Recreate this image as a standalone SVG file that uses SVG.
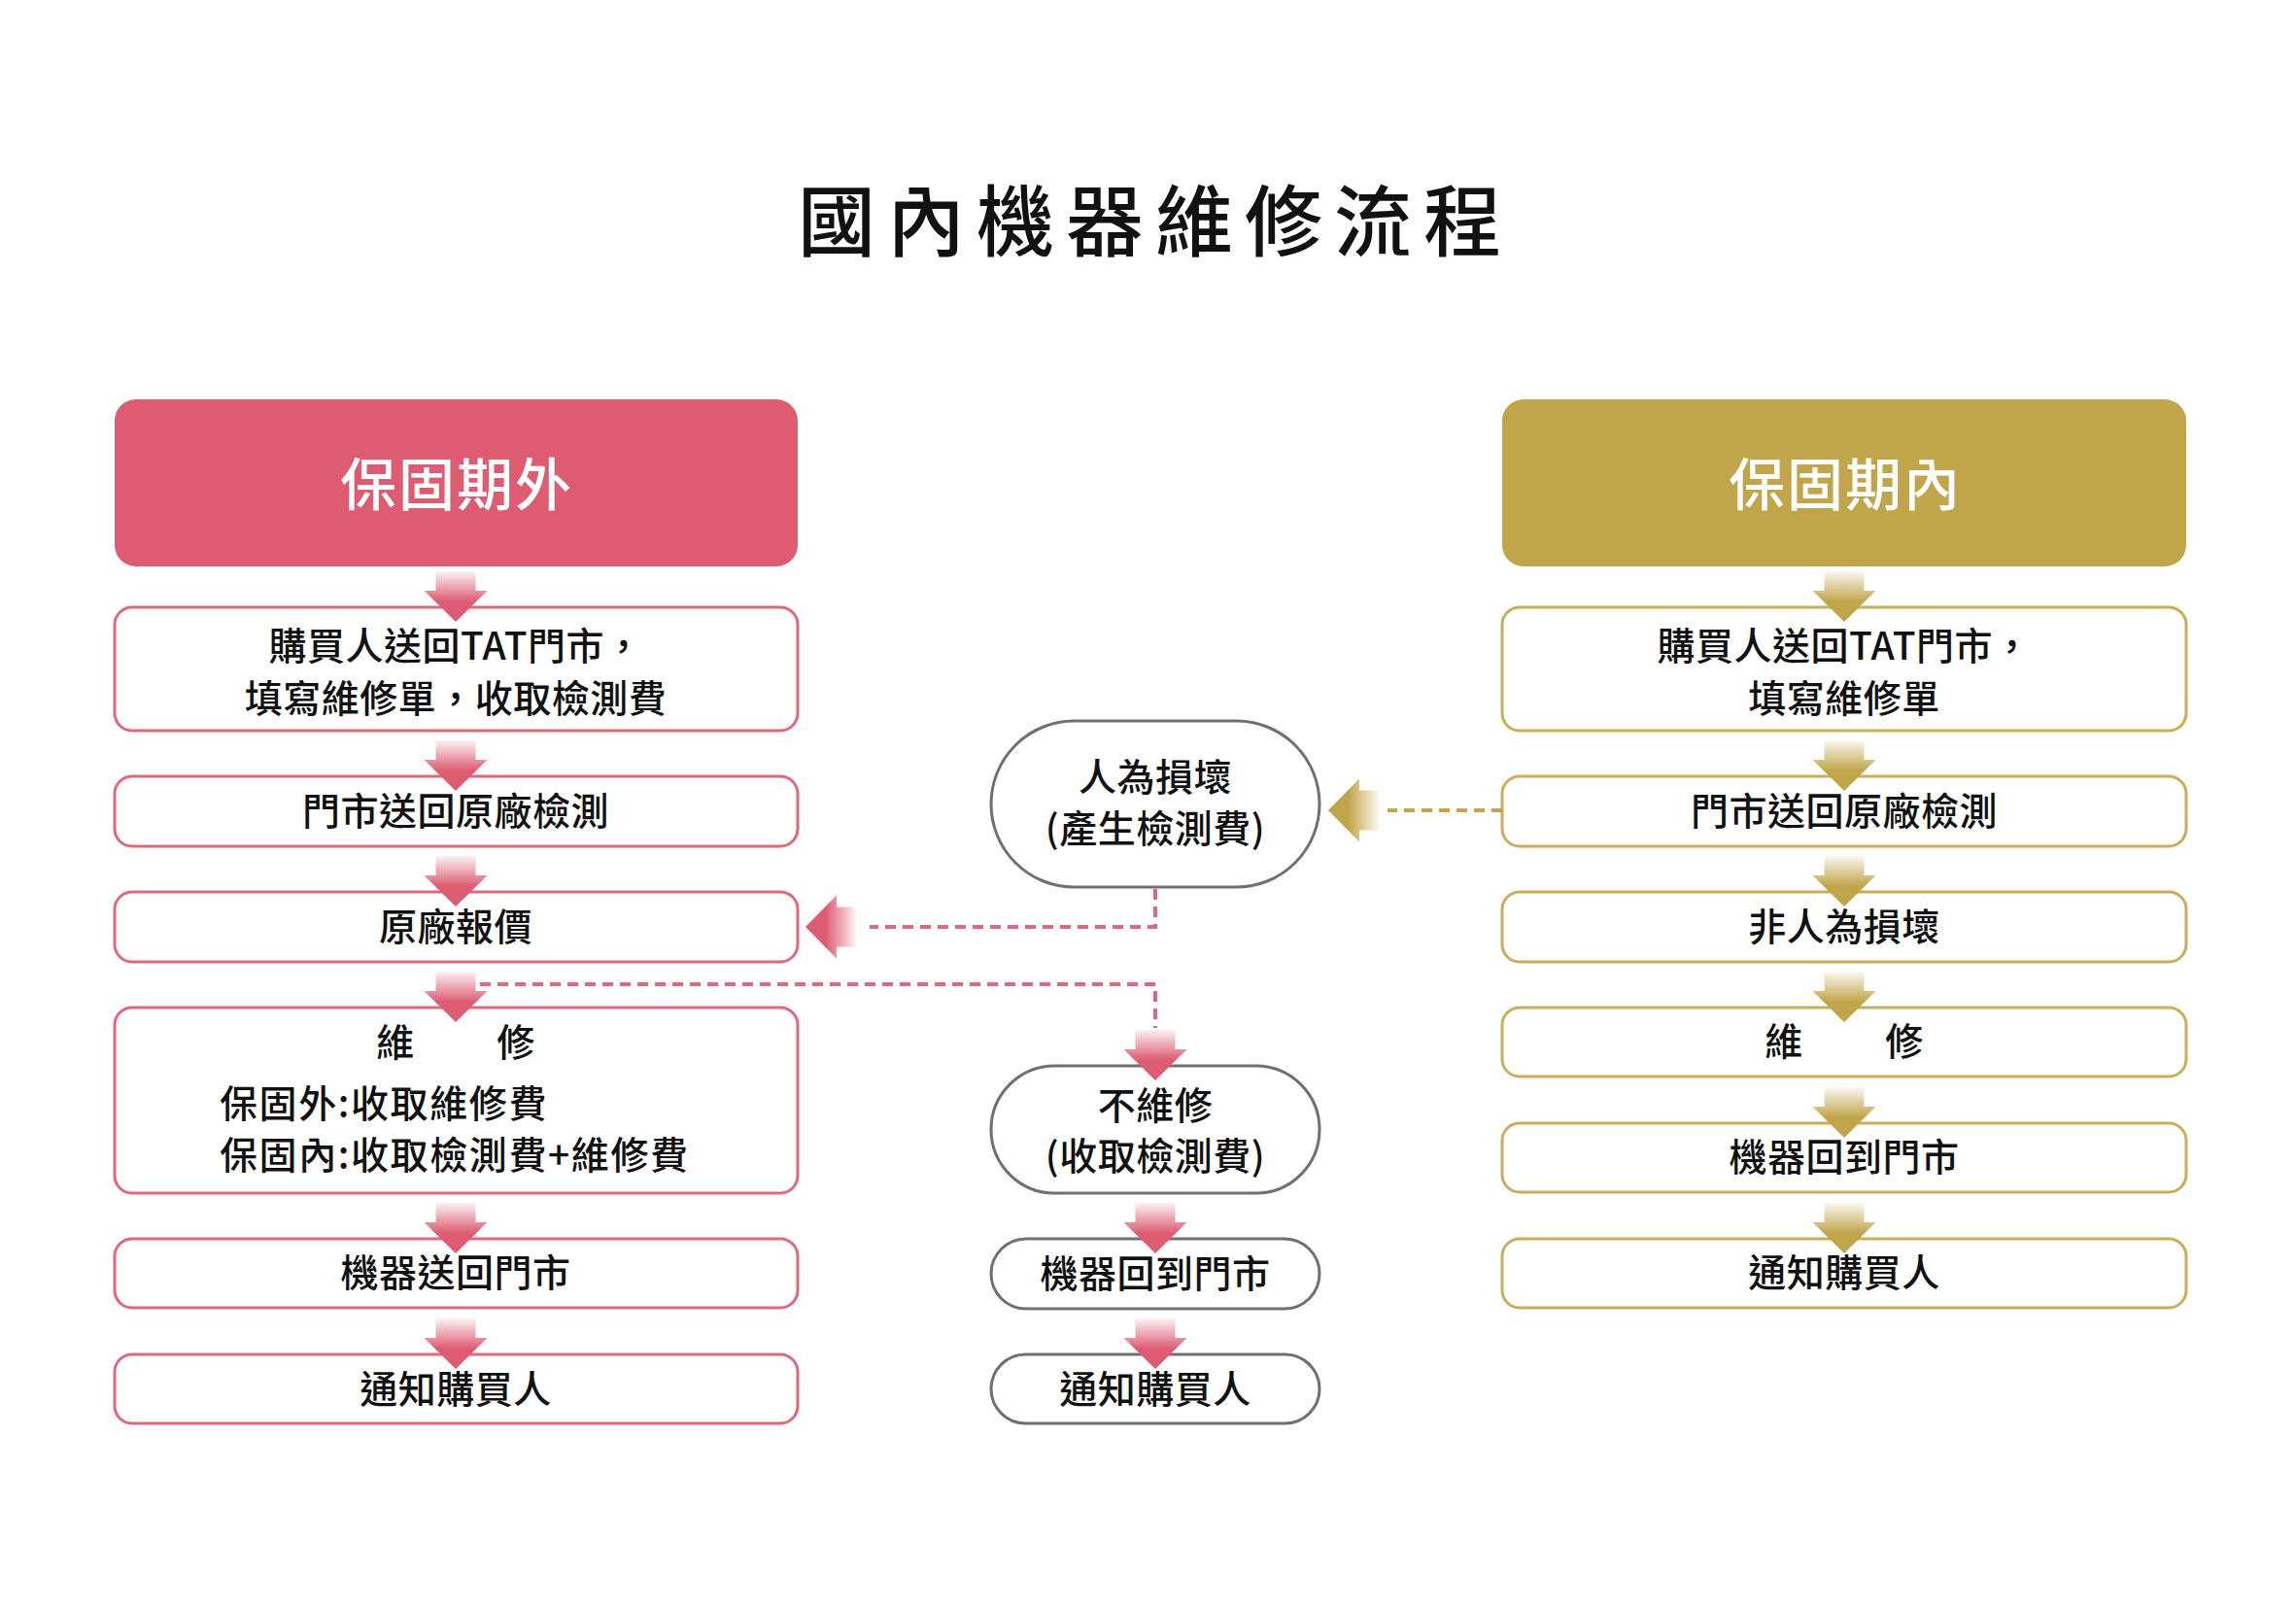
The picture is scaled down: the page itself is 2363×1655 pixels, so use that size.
<svg xmlns="http://www.w3.org/2000/svg" width="2363" height="1655" viewBox="0 0 2363 1655">
<style>
.t{font-family:'Noto Sans CJK TC','Noto Sans CJK SC',sans-serif;font-size:39px;font-weight:500;fill:#111;text-anchor:middle;dominant-baseline:central;letter-spacing:0.5px}
.ts{text-anchor:start;letter-spacing:1.6px}
.hd{font-family:'Noto Sans CJK TC',sans-serif;font-size:58px;font-weight:500;fill:#fff;text-anchor:middle;dominant-baseline:central;letter-spacing:2px}
.title{font-family:'Noto Sans CJK TC',sans-serif;font-size:80px;font-weight:500;fill:#111;text-anchor:middle;dominant-baseline:central;letter-spacing:12px}
.bp{fill:#fff;stroke:#E0687C;stroke-width:3}
.bg{fill:#fff;stroke:#C9AE5A;stroke-width:3}
.bo{fill:#fff;stroke:#707070;stroke-width:3}
.dp{fill:none;stroke:#E0687C;stroke-width:4;stroke-dasharray:11 7}
.dg{fill:none;stroke:#C1A54A;stroke-width:4;stroke-dasharray:11 7}
</style>
<defs>
<linearGradient id="gP" x1="0" y1="0" x2="0" y2="1">
<stop offset="0" stop-color="#DD5C72" stop-opacity="0.08"/>
<stop offset="0.6" stop-color="#DD5C72"/>
<stop offset="1" stop-color="#DD5C72"/>
</linearGradient>
<linearGradient id="gG" x1="0" y1="0" x2="0" y2="1">
<stop offset="0" stop-color="#C1A54A" stop-opacity="0.08"/>
<stop offset="0.6" stop-color="#C1A54A"/>
<stop offset="1" stop-color="#C1A54A"/>
</linearGradient>
<path id="aP" d="M-20.5,-52H20.5V-32H32.5L0,0L-32.5,-32H-20.5Z" fill="url(#gP)"/>
<path id="aG" d="M-20.5,-52H20.5V-32H32.5L0,0L-32.5,-32H-20.5Z" fill="url(#gG)"/>
</defs>
<rect width="2363" height="1655" fill="#fff"/>
<text class="title" x="1189" y="222">國內機器維修流程</text>

<g id="hdr-out"><rect x="118" y="411" width="703" height="172" rx="22" fill="#DD5C72"/><text class="hd" x="470" y="495">保固期外</text></g>
<g id="hdr-in"><rect x="1546" y="411" width="704" height="172" rx="22" fill="#C1A54A"/><text class="hd" x="1899" y="495">保固期內</text></g>

<g id="L1"><rect class="bp" x="118" y="625" width="703" height="127" rx="18"/><text class="t" x="469" y="662">購買人送回TAT門市，</text><text class="t" x="469" y="716">填寫維修單，收取檢測費</text></g>
<g id="L2"><rect class="bp" x="118" y="799" width="703" height="72" rx="18"/><text class="t" x="469" y="832">門市送回原廠檢測</text></g>
<g id="L3"><rect class="bp" x="118" y="918" width="703" height="72" rx="18"/><text class="t" x="469" y="951">原廠報價</text></g>
<g id="L4"><rect class="bp" x="118" y="1037" width="703" height="191" rx="18"/><text class="t" x="407" y="1070">維</text><text class="t" x="531" y="1070">修</text><text class="t ts" x="226" y="1133">保固外:收取維修費</text><text class="t ts" x="226" y="1186">保固內:收取檢測費+維修費</text></g>
<g id="L5"><rect class="bp" x="118" y="1275" width="703" height="71" rx="18"/><text class="t" x="469" y="1307">機器送回門市</text></g>
<g id="L6"><rect class="bp" x="118" y="1394" width="703" height="71" rx="18"/><text class="t" x="469" y="1427">通知購買人</text></g>

<g id="O1"><rect class="bo" x="1020" y="742" width="338" height="171" rx="85.5"/><text class="t" x="1189" y="797">人為損壞</text><text class="t" x="1189" y="850">(產生檢測費)</text></g>
<g id="O2"><rect class="bo" x="1020" y="1097" width="338" height="131" rx="65.5"/><text class="t" x="1189" y="1135">不維修</text><text class="t" x="1189" y="1187">(收取檢測費)</text></g>
<g id="O3"><rect class="bo" x="1020" y="1275" width="338" height="72" rx="36"/><text class="t" x="1189" y="1308">機器回到門市</text></g>
<g id="O4"><rect class="bo" x="1020" y="1394" width="338" height="71" rx="35.5"/><text class="t" x="1189" y="1427">通知購買人</text></g>

<g id="R1"><rect class="bg" x="1546" y="625" width="704" height="127" rx="18"/><text class="t" x="1898" y="662">購買人送回TAT門市，</text><text class="t" x="1898" y="716">填寫維修單</text></g>
<g id="R2"><rect class="bg" x="1546" y="799" width="704" height="72" rx="18"/><text class="t" x="1898" y="832">門市送回原廠檢測</text></g>
<g id="R3"><rect class="bg" x="1546" y="918" width="704" height="72" rx="18"/><text class="t" x="1898" y="951">非人為損壞</text></g>
<g id="R4"><rect class="bg" x="1546" y="1037" width="704" height="71" rx="18"/><text class="t" x="1836" y="1069">維</text><text class="t" x="1960" y="1069">修</text></g>
<g id="R5"><rect class="bg" x="1546" y="1156" width="704" height="71" rx="18"/><text class="t" x="1898" y="1188">機器回到門市</text></g>
<g id="R6"><rect class="bg" x="1546" y="1275" width="704" height="71" rx="18"/><text class="t" x="1898" y="1307">通知購買人</text></g>

<g id="connectors">
<use href="#aP" transform="translate(469,640)"/>
<use href="#aP" transform="translate(469,814)"/>
<use href="#aP" transform="translate(469,933)"/>
<use href="#aP" transform="translate(469,1052)"/>
<use href="#aP" transform="translate(469,1290)"/>
<use href="#aP" transform="translate(469,1409)"/>
<use href="#aG" transform="translate(1898,640)"/>
<use href="#aG" transform="translate(1898,814)"/>
<use href="#aG" transform="translate(1898,933)"/>
<use href="#aG" transform="translate(1898,1052)"/>
<use href="#aG" transform="translate(1898,1171)"/>
<use href="#aG" transform="translate(1898,1290)"/>
<use href="#aP" transform="translate(1189,1112)"/>
<use href="#aP" transform="translate(1189,1290)"/>
<use href="#aP" transform="translate(1189,1409)"/>
<path class="dp" d="M494,1013H1189V1058"/>
<path class="dp" d="M1189,915V954H895"/>
<use href="#aP" transform="translate(829,954) rotate(90)"/>
<path class="dg" d="M1546,834H1428"/>
<use href="#aG" transform="translate(1367,834) rotate(90)"/>
</g>
</svg>
